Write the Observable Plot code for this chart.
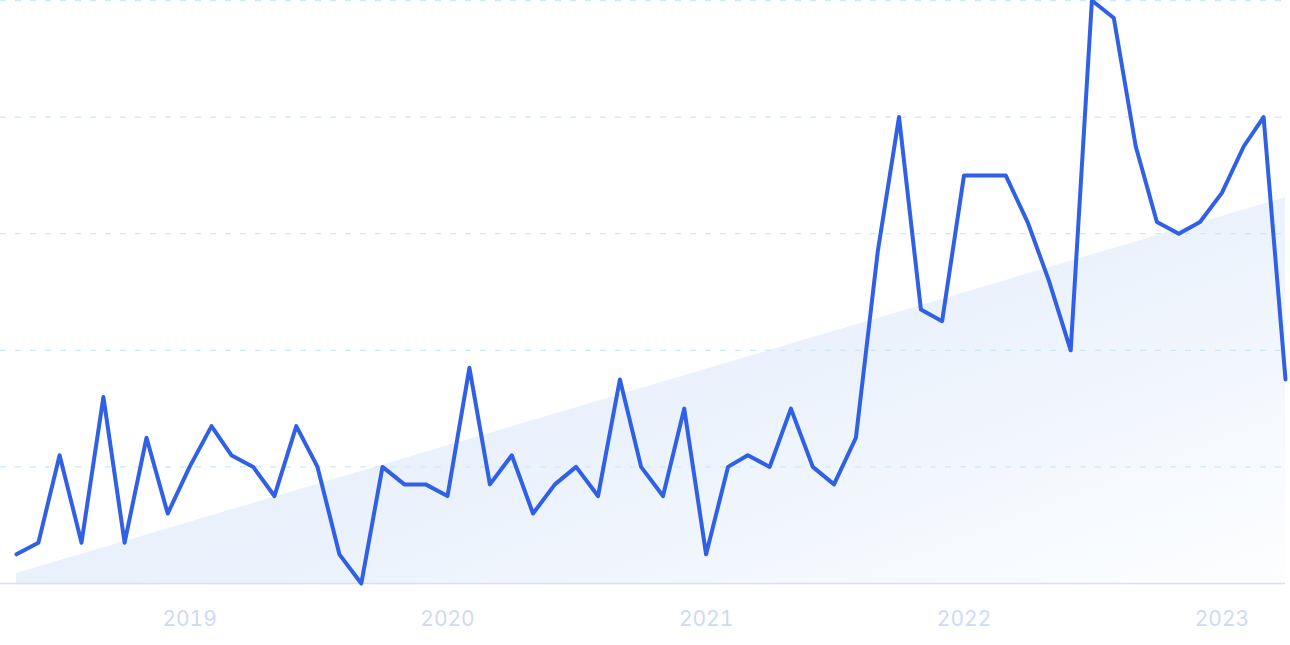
<!DOCTYPE html>
<html><head><meta charset="utf-8">
<script src="https://cdn.jsdelivr.net/npm/d3@7"></script>
<script src="https://cdn.jsdelivr.net/npm/@observablehq/plot@0.6"></script>
<style>html,body{margin:0;padding:0;background:#fff;overflow:hidden}</style>
</head><body><div id="chart"></div>
<script>
const firstMonth = "2018-05-01";
const lastMonth = "2023-04-01";
const values = [
  5, 7, 22, 7, 32, 7, 25, 12,
  20, 27, 22, 20, 15, 27, 20, 5, 0, 20, 17, 17,
  15, 37, 17, 22, 12, 17, 20, 15, 35, 20, 15, 30,
  5, 20, 22, 20, 30, 20, 17, 25, 57, 80, 47, 45,
  70, 70, 70, 62, 52, 40, 100, 97, 75, 62, 60, 62,
  67, 75, 80, 35
];
const trendValues = [1.7, 66.2];
const yearTicks = ["2019", "2020", "2021", "2022", "2023"];
const gridValues = [20, 40, 60, 80, 100];

const months = d3.utcMonth.range(new Date(firstMonth), d3.utcMonth.offset(new Date(lastMonth), 1));
const series = months.map((date, i) => ({date, value: values[i]}));
const trend = [
  {date: months[0], value: trendValues[0]},
  {date: months[months.length - 1], value: trendValues[1]}
];

const chart = Plot.plot({
  width: 1290, height: 645,
  marginTop: 0, marginBottom: 62, marginLeft: 16, marginRight: 5,
  style: {background: "#fff", fontFamily: "Inter, sans-serif", overflow: "visible"},
  x: {type: "utc", domain: [months[0], months[months.length - 1]]},
  y: {domain: [0, 100], axis: null},
  marks: [
    Plot.areaY(trend, {x: "date", y: "value", fill: "url(#trendGrad)"}),
    Plot.ruleY(gridValues, {stroke: "#cfe7f7", strokeDasharray: "6,9", strokeWidth: 1.3, insetLeft: -16}),
    Plot.ruleY([0], {stroke: "#d6e0f6", strokeWidth: 1.3, insetLeft: -16}),
    Plot.lineY(series, {x: "date", y: "value", stroke: "#2f60e6", strokeWidth: 4, strokeLinejoin: "round", strokeLinecap: "round"}),
    Plot.axisX(yearTicks.map(y => new Date(y + "-01-01")), {
      tickSize: 0, tickPadding: 28, fontSize: 21, color: "#cfdaf5",
      tickFormat: d3.utcFormat("%Y"), label: null
    })
  ]
});

const defs = d3.select(chart).insert("defs", ":first-child");
const grad = defs.append("linearGradient").attr("id", "trendGrad")
  .attr("x1", 0).attr("y1", 0.2).attr("x2", 1).attr("y2", 1);
grad.append("stop").attr("offset", 0).attr("stop-color", "#e2edfb");
grad.append("stop").attr("offset", 0.5).attr("stop-color", "#ebf2fc");
grad.append("stop").attr("offset", 1).attr("stop-color", "#fdfeff");

document.getElementById("chart").appendChild(chart);
</script>
</body></html>
